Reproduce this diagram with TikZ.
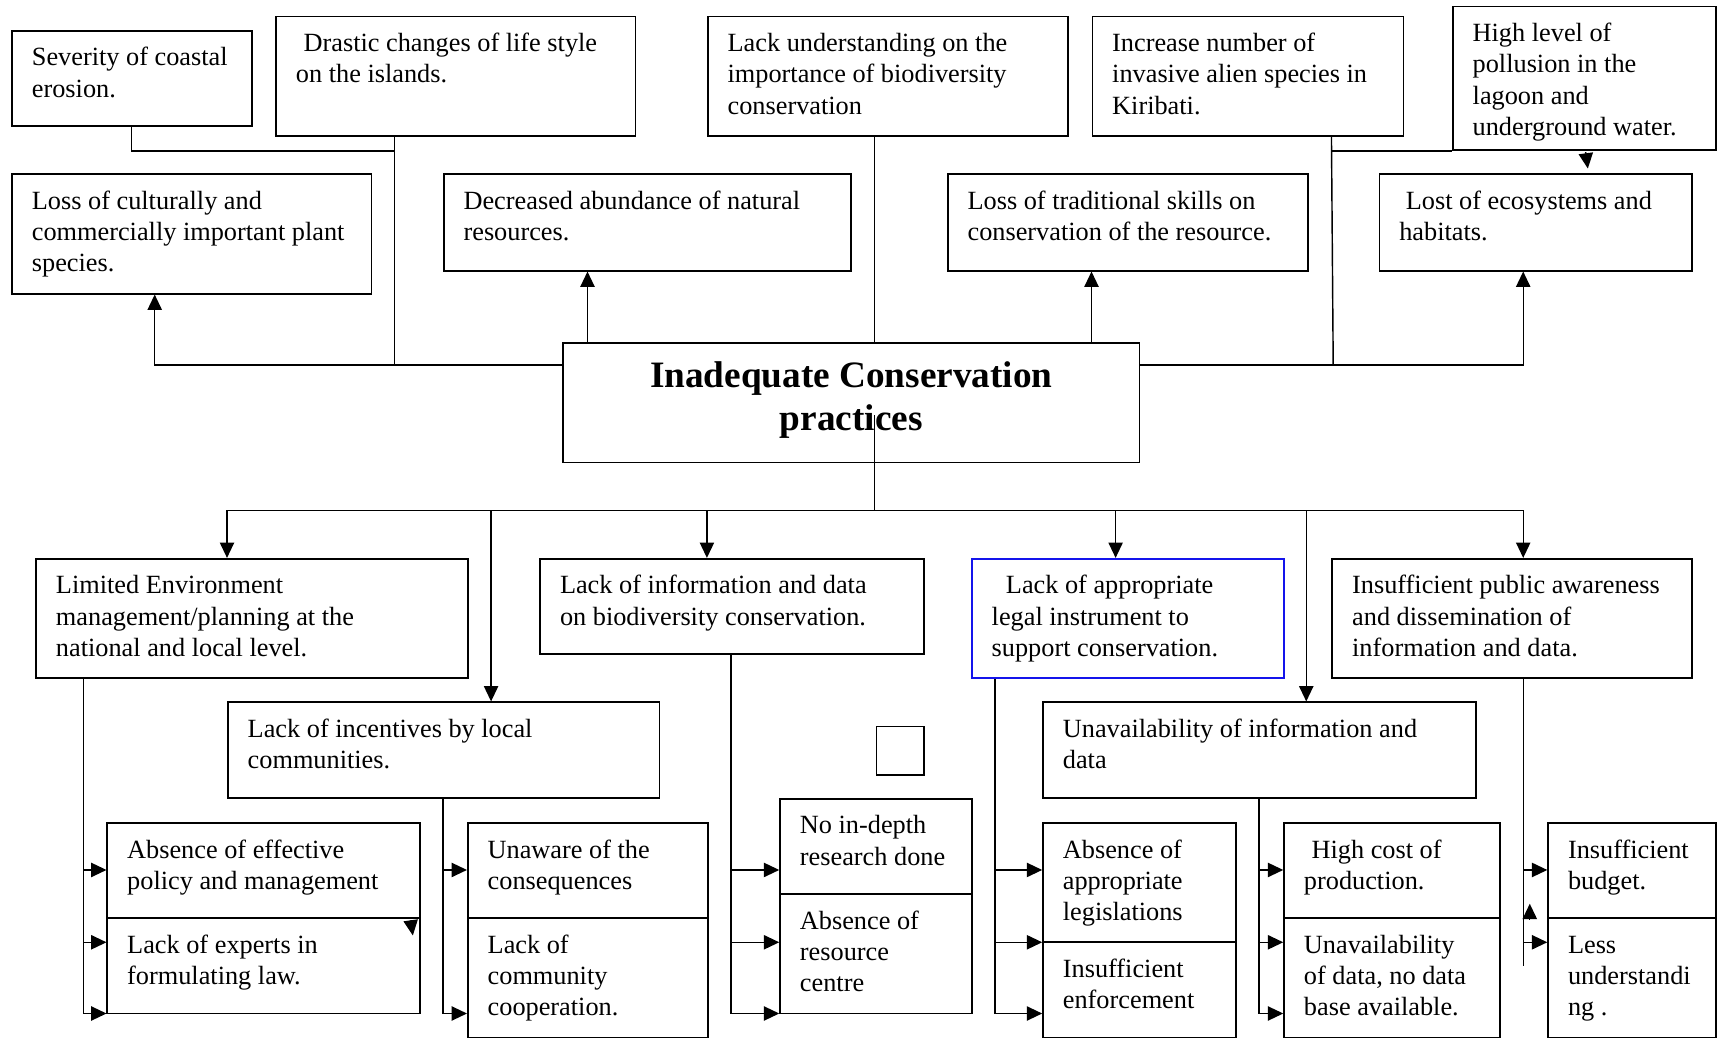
\documentclass[tikz,border=0pt]{standalone}
\usepackage{fontspec}
\setmainfont{Liberation Serif}
\usetikzlibrary{arrows.meta,calc,fit}
\definecolor{legalblue}{RGB}{20,20,235}
\tikzset{
  box/.style={draw, line width=0.8pt, inner sep=0pt},
  txt/.style={anchor=north west, inner sep=0pt, align=left, font=\fontsize{12}{14.25}\selectfont},
  conn/.style={line width=0.65pt},
  arr/.style={conn, -{Triangle[length=7pt,width=6.5pt]}},
}
\newcommand\qbox[6]{%
  \node[box,fit={(#2,#3) (#4,#5)}] (#1) {};
  \node[txt] (#1-t) at ([shift={(18.5,14)}]#1.north west) {\rule{0pt}{9.25pt}#6};}
\begin{document}
\begin{tikzpicture}[x=0.5pt,y=-0.5pt]
\useasboundingbox (0,0) rectangle (1568,948);
% ---- top effects
\qbox{sev}{11}{28}{230}{115}{Severity of coastal\\erosion.}
\qbox{drastic}{252}{15}{580}{124}{\hspace{3.5pt}Drastic changes of life style\\on the islands.}
\qbox{lacku}{646}{15}{975}{124}{Lack understanding on the\\importance of biodiversity\\conservation}
\qbox{incr}{997}{15}{1281}{124}{Increase number of\\invasive alien species in\\Kiribati.}
\qbox{high}{1326}{6}{1566}{137}{High level of\\pollusion in the\\lagoon and\\underground water.}
\qbox{loss}{11}{159}{339}{268}{Loss of culturally and\\commercially important plant\\species.}
\qbox{dec}{405}{159}{777}{247}{Decreased abundance of natural\\resources.}
\qbox{trad}{865}{159}{1194}{247}{Loss of traditional skills on\\conservation of the resource.}
\qbox{eco}{1259}{159}{1544}{247}{\hspace{3pt}Lost of ecosystems and\\habitats.}
% ---- centre
\node[box,fit={(514,313) (1040,422)}] (ctr) {};
\node[anchor=north, inner sep=0pt, align=center, font=\fontsize{17}{19.5}\selectfont\bfseries] (ctr-t)
  at ([shift={(0,16)}]ctr.north) {\rule{0pt}{12.5pt}Inadequate Conservation\\practices};
% ---- causes
\qbox{lim}{33}{510}{427}{619}{Limited Environment\\management/planning at the\\national and local level.}
\qbox{info}{493}{510}{843}{597}{Lack of information and data\\on biodiversity conservation.}
\node[box,draw=legalblue,fit={(887,510) (1172,619)}] (legal) {};
\node[txt] (legal-t) at ([shift={(18.5,14)}]legal.north west) {\rule{0pt}{9.25pt}\hspace{6.5pt}Lack of appropriate\\legal instrument to\\support conservation.};
\qbox{pub}{1216}{510}{1544}{619}{Insufficient public awareness\\and dissemination of\\information and data.}
\qbox{incent}{208}{641}{602}{728}{Lack of incentives by local\\communities.}
\node[box,fit={(800,663) (843,707)}] (blank) {};
\qbox{unav}{952}{641}{1347}{728}{Unavailability of information and\\data}
% ---- sub causes
\qbox{eff}{98}{751}{383}{838}{Absence of effective\\policy and management}
\qbox{exp}{98}{838}{383}{925}{Lack of experts in\\formulating law.}
\qbox{unaw}{427}{751}{646}{838}{Unaware of the\\consequences}
\qbox{comm}{427}{838}{646}{947}{Lack of\\community\\cooperation.}
\qbox{res}{712}{729}{887}{816}{No in-depth\\research done}
\qbox{resc}{712}{816}{887}{925}{Absence of\\resource\\centre}
\qbox{legis}{952}{751}{1128}{860}{Absence of\\appropriate\\legislations}
\qbox{enf}{952}{860}{1128}{947}{Insufficient\\enforcement}
\qbox{cost}{1172}{751}{1369}{838}{\hspace{3.5pt}High cost of\\production.}
\qbox{unad}{1172}{838}{1369}{947}{Unavailability\\of data, no data\\base available.}
\qbox{bud}{1413}{751}{1566}{838}{Insufficient\\budget.}
\qbox{less}{1413}{838}{1566}{947}{Less\\understandi\\ng .}
% ---- top connectors
\draw[arr] ($(ctr.north west)+(0,21)$) -| ($(loss.south west)+(131,0)$);
\draw[conn] ($(drastic.south west)+(109,0)$) -- ($(ctr.north west)+(-153,21)$);
\draw[conn] ($(sev.south west)+(110,0)$) |- ($(drastic.south west)+(109,13)$);
\draw[conn] ($(lacku.south west)+(153,0)$) -- ($(ctr.north west)+(285,0)$);
\draw[arr] ($(ctr.north west)+(23,0)$) -- ($(dec.south west)+(132,0)$);
\draw[arr] ($(ctr.north west)+(483,0)$) -- ($(trad.south west)+(132,0)$);
\draw[arr] ($(ctr.north east)+(0,21)$) -| ($(eco.south west)+(132,0)$);
\draw[conn] ($(incr.south west)+(219,0)$) -- ($(ctr.north east)+(176,21)$);
\draw[conn] ($(incr.south west)+(219,13)$) -- (high.south west);
\draw[arr] ($(high.south west)+(122,1)$) -- ($(high.south west)+(124,16)$);
% ---- bus below centre
\coordinate (cdown) at ($(ctr.north west)+(285,67)$);
\coordinate (hub) at ($(ctr.south west)+(285,43)$);
\draw[conn] (cdown) -- (hub);
\draw[arr] (hub) -| ($(lim.north west)+(175,0)$);
\draw[arr] (hub) -| ($(incent.north west)+(241,0)$);
\draw[arr] (hub) -| ($(info.north west)+(153,0)$);
\draw[arr] (hub) -| ($(legal.north west)+(132,0)$);
\draw[arr] (hub) -| ($(unav.north west)+(241,0)$);
\draw[arr] (hub) -| ($(pub.north west)+(175,0)$);
% ---- rows
\coordinate (rowA) at (0,794);
\coordinate (rowB) at (0,860);
\coordinate (rowC) at (0,925);
% column A
\coordinate (cA) at ($(lim.south west)+(44,0)$);
\draw[conn] (cA) -- (cA |- rowC);
\draw[arr] (cA |- rowA) -- (eff.west |- rowA);
\draw[arr] (cA |- rowB) -- (exp.west |- rowB);
\draw[arr] (cA |- rowC) -- (exp.west |- rowC);
\coordinate (tipA) at ($(eff.south east)+(-7,15)$);
\draw[arr] ($(tipA)+(-2,-14)$) -- (tipA);
% column B
\coordinate (cB) at ($(incent.south west)+(197,0)$);
\draw[conn] (cB) -- (cB |- rowC);
\draw[arr] (cB |- rowA) -- (unaw.west |- rowA);
\draw[arr] (cB |- rowC) -- (comm.west |- rowC);
% column C
\coordinate (cC) at ($(info.south west)+(175,0)$);
\draw[conn] (cC) -- (cC |- rowC);
\draw[arr] (cC |- rowA) -- (res.west |- rowA);
\draw[arr] (cC |- rowB) -- (resc.west |- rowB);
\draw[arr] (cC |- rowC) -- (resc.west |- rowC);
% column D
\coordinate (cD) at ($(legal.south west)+(22,0)$);
\draw[conn] (cD) -- (cD |- rowC);
\draw[arr] (cD |- rowA) -- (legis.west |- rowA);
\draw[arr] (cD |- rowB) -- (enf.west |- rowB);
\draw[arr] (cD |- rowC) -- (enf.west |- rowC);
% column E
\coordinate (cE) at ($(unav.south west)+(198,0)$);
\draw[conn] (cE) -- (cE |- rowC);
\draw[arr] (cE |- rowA) -- (cost.west |- rowA);
\draw[arr] (cE |- rowB) -- (unad.west |- rowB);
\draw[arr] (cE |- rowC) -- (unad.west |- rowC);
% column F
\coordinate (cF) at ($(pub.south west)+(175,0)$);
\coordinate (cFend) at ($(less.north west)+(-22,44)$);
\draw[conn] (cF) -- (cFend);
\draw[arr] (cF |- rowA) -- (bud.west |- rowA);
\draw[arr] (cF |- rowB) -- (less.west |- rowB);
\coordinate (tipB) at ($(bud.south west)+(-16,-14)$);
\draw[arr] ($(tipB)+(0,14)$) -- (tipB);
\end{tikzpicture}
\end{document}
